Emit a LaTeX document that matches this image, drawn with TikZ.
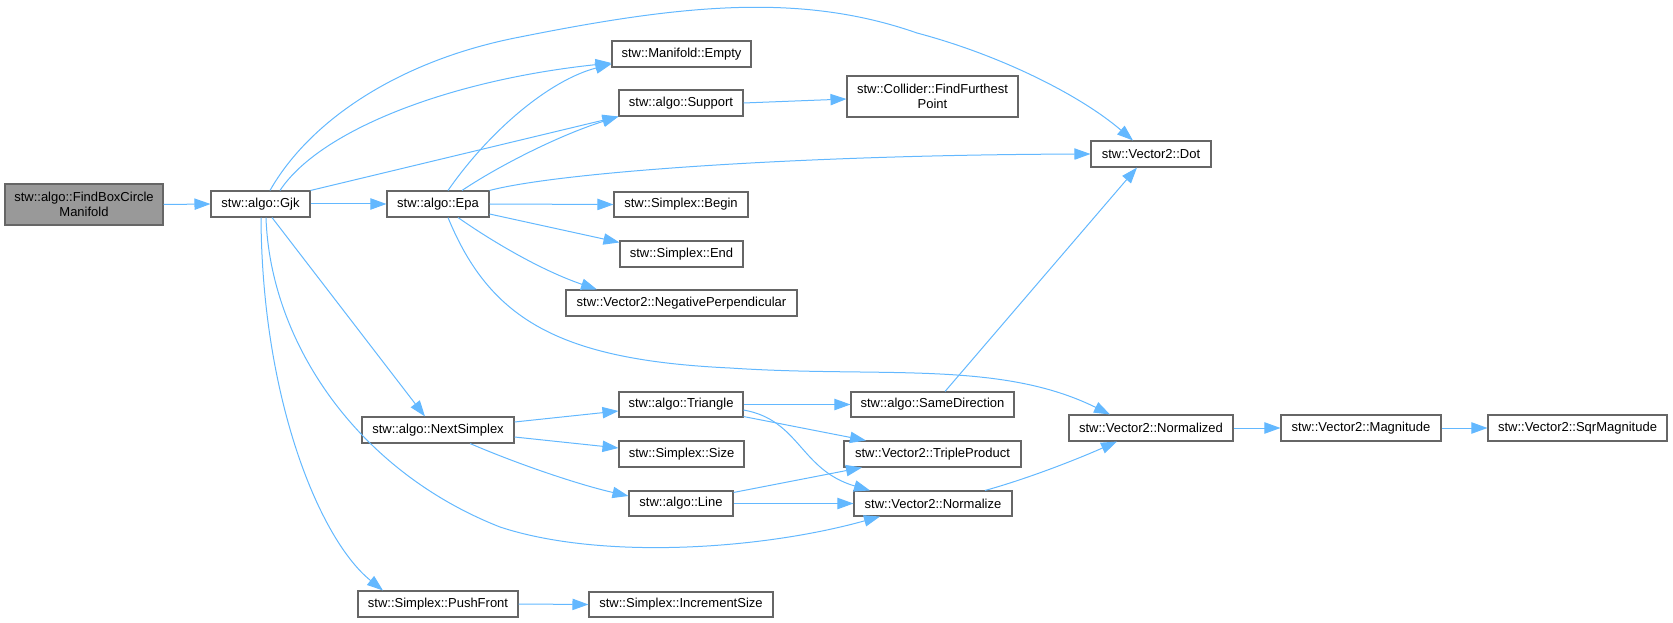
\documentclass[tikz,border=0pt]{standalone}
\usepackage{fontspec}
\setmainfont{Liberation Sans}
\usetikzlibrary{arrows.meta,calc}
\definecolor{edgecol}{HTML}{63B8FF}
\definecolor{bordercol}{HTML}{666666}
\definecolor{mainfill}{HTML}{999999}
\begin{document}
\begin{tikzpicture}[x=0.75pt,y=-0.75pt,
  box/.style={draw=bordercol, line width=0.8pt, fill=white, inner sep=0pt, align=center, font=\fontsize{9.75}{11}\selectfont},
  sz/.style 2 args={minimum width=#1*0.75pt, minimum height=#2*0.75pt},
  arr/.style={draw=edgecol, line width=0.75pt, -{Triangle[length=12pt,width=8.5pt]}}]
\useasboundingbox (0,0) rectangle (1673,623);

% nodes
\node[box, fill=mainfill, sz={158}{41}] (fbc) at (84,204.5) {stw::algo::FindBoxCircle\\Manifold};
\node[box, sz={99}{26}] (gjk) at (260.5,204) {stw::algo::Gjk};
\node[box, sz={102}{26}] (epa) at (438,204) {stw::algo::Epa};
\node[box, sz={139}{26}] (empty) at (681.5,54) {stw::Manifold::Empty};
\node[box, sz={124}{26}] (support) at (681,103) {stw::algo::Support};
\node[box, sz={171}{41}] (collider) at (932.5,96.5) {stw::Collider::FindFurthest\\Point};
\node[box, sz={134}{25}] (begin) at (681,204.5) {stw::Simplex::Begin};
\node[box, sz={123}{26}] (end) at (681.5,254) {stw::Simplex::End};
\node[box, sz={231}{26}] (negperp) at (681.5,303) {stw::Vector2::NegativePerpendicular};
\node[box, sz={152}{26}] (nextsimplex) at (438,430) {stw::algo::NextSimplex};
\node[box, sz={160}{26}] (pushfront) at (438,604) {stw::Simplex::PushFront};
\node[box, sz={124}{25}] (triangle) at (681,404.5) {stw::algo::Triangle};
\node[box, sz={125}{26}] (size) at (681.5,454) {stw::Simplex::Size};
\node[box, sz={104}{25}] (line) at (681,503.5) {stw::algo::Line};
\node[box, sz={184}{25}] (incsize) at (681,604.5) {stw::Simplex::IncrementSize};
\node[box, sz={163}{25}] (samedir) at (932.5,404.5) {stw::algo::SameDirection};
\node[box, sz={177}{26}] (triple) at (932.5,454) {stw::Vector2::TripleProduct};
\node[box, sz={158}{25}] (normalize) at (933,503.5) {stw::Vector2::Normalize};
\node[box, sz={120}{26}] (dot) at (1151,154) {stw::Vector2::Dot};
\node[box, sz={164}{26}] (normalized) at (1151,428) {stw::Vector2::Normalized};
\node[box, sz={160}{26}] (magnitude) at (1361,428) {stw::Vector2::Magnitude};
\node[box, sz={179}{26}] (sqrmag) at (1577.5,428) {stw::Vector2::SqrMagnitude};

% edges
\draw[arr] (fbc.east) -- (gjk.west);
\draw[arr] (gjk.east) -- (epa.west);
\draw[arr] ($(gjk.north)+(19.5,0)$) .. controls (320,130) and (450,80) .. ($(empty.west)+(0,9)$);
\draw[arr] (gjk.north east) -- (support.south west);
\draw[arr] ($(gjk.north)+(9.5,0)$) .. controls (310,120) and (400,60) .. (520,37)
  .. controls (680,5) and (800,-8) .. (917,33)
  .. controls (1000,55) and (1080,95) .. ($(dot.north)+(-18,0)$);
\draw[arr] ($(gjk.south)+(11.5,0)$) -- ($(nextsimplex.north)+(-13,0)$);
\draw[arr] ($(gjk.south)+(5.5,0)$) .. controls (270,340) and (355,470) .. (500,527)
  .. controls (600,560) and (760,550) .. ($(normalize.south)+(-53,0)$);
\draw[arr] ($(gjk.south)+(0.5,0)$) .. controls (262,400) and (320,540) .. ($(pushfront.north)+(-55,0)$);

\draw[arr] ($(epa.north)+(10,0)$) .. controls (490,130) and (550,80) .. ($(empty.west)+(0,10)$);
\draw[arr] ($(epa.north)+(24,0)$) .. controls (500,165) and (560,135) .. (support.south west);
\draw[arr] (epa.north east) .. controls (560,172) and (800,155) .. (dot.west);
\draw[arr] (epa.east) -- (begin.west);
\draw[arr] ($(epa.east)+(0,10)$) -- ($(end.north west)+(0,2)$);
\draw[arr] ($(epa.south)+(20,0)$) .. controls (490,240) and (540,270) .. ($(negperp.north)+(-84.5,0)$);
\draw[arr] ($(epa.south)+(10,0)$) .. controls (490,320) and (560,360) .. (730,368)
  .. controls (880,378) and (1000,360) .. ($(normalized.north)+(-41,0)$);

\draw[arr] (support.east) -- ($(collider.west)+(0,2.5)$);

\draw[arr] ($(nextsimplex.east)+(0,-8)$) -- ($(triangle.west)+(0,6.5)$);
\draw[arr] ($(nextsimplex.east)+(0,7)$) -- ($(size.west)+(0,-6)$);
\draw[arr] ($(nextsimplex.south)+(32,0)$) .. controls (520,465) and (580,485) .. ($(line.west)+(0,-7.5)$);

\draw[arr] (triangle.east) -- (samedir.west);
\draw[arr] ($(triangle.south east)+(0,-1)$) -- ($(triple.north)+(-66.5,0)$);
\draw[arr] ($(triangle.east)+(0,5.5)$) .. controls (800,420) and (800,470) .. ($(normalize.north)+(-63,0)$);

\draw[arr] ($(line.north east)+(0,2)$) -- ($(triple.south)+(-70.5,0)$);
\draw[arr] (line.east) -- (normalize.west);

\draw[arr] ($(samedir.north)+(12.5,0)$) -- ($(dot.south)+(-14,0)$);
\draw[arr] ($(normalize.north)+(52,0)$) .. controls (1030,478) and (1080,458) .. ($(normalized.south)+(-34,0)$);

\draw[arr] (normalized.east) -- (magnitude.west);
\draw[arr] (magnitude.east) -- (sqrmag.west);
\draw[arr] (pushfront.east) -- (incsize.west);
\end{tikzpicture}
\end{document}
